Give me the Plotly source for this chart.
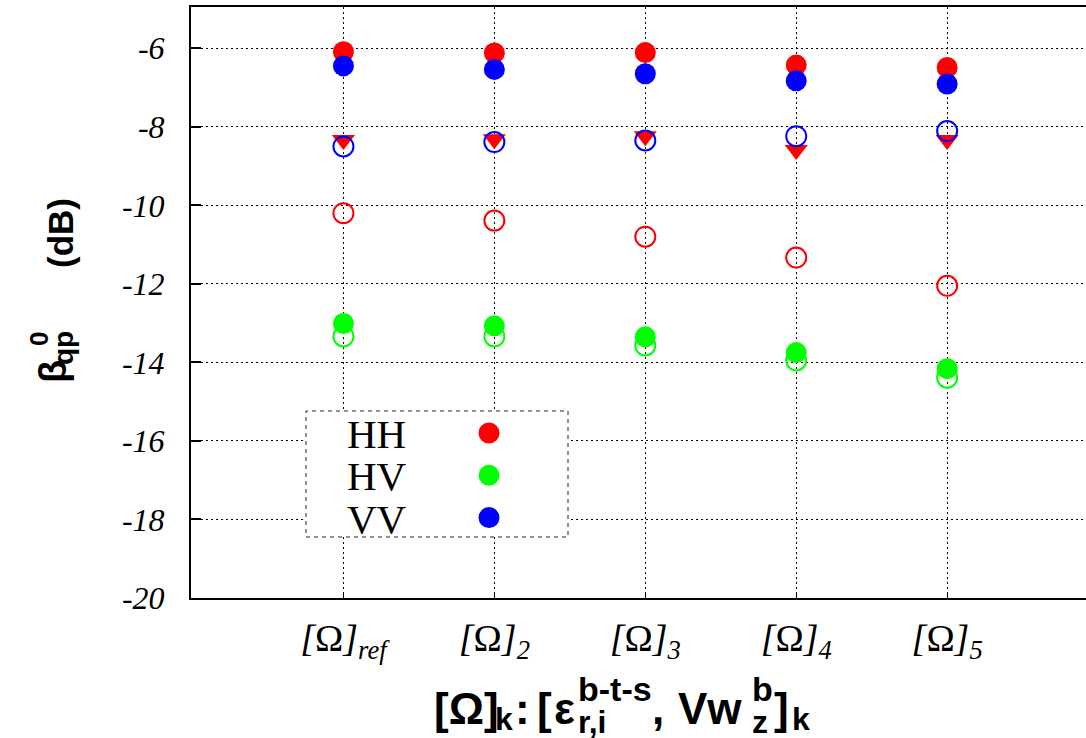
import plotly.graph_objects as go

# Configurations along the x axis
positions = [1, 2, 3, 4, 5]
categories = ["<i>[</i>Ω<i>]<sub>ref</sub></i>", "<i>[</i>Ω<i>]<sub>2</sub></i>",
              "<i>[</i>Ω<i>]<sub>3</sub></i>", "<i>[</i>Ω<i>]<sub>4</sub></i>",
              "<i>[</i>Ω<i>]<sub>5</sub></i>"]

# Backscattering coefficients (dB)
hh_filled = [-6.09, -6.12, -6.11, -6.43, -6.49]
hv_filled = [-13.01, -13.07, -13.35, -13.75, -14.16]
vv_filled = [-6.45, -6.54, -6.65, -6.83, -6.91]
hh_open = [-10.20, -10.39, -10.80, -11.33, -12.05]
hv_open = [-13.34, -13.34, -13.57, -13.95, -14.39]
vv_open = [-8.50, -8.39, -8.35, -8.24, -8.11]
hh_tri = [-8.34, -8.32, -8.24, -8.59, -8.34]

y_ticks = [-20, -18, -16, -14, -12, -10, -8, -6]
y_tick_labels = ["-20", "-18", "-16", "-14", "-12", "-10", "-8", "-6"]

legend_names = ["HH", "HV", "VV"]

RED, GREEN, BLUE = "#ff0000", "#00ff00", "#0000ff"

# plot-area geometry in pixels
W, H = 1086, 738
L, R, T, B = 191, 0, 7, 140
PW, PH = W - L - R, H - T - B


def px(x):
    return (x - L) / PW


def py(y):
    return (H - B - y) / PH


fig = go.Figure()


def open_marks(vals, color):
    fig.add_trace(go.Scatter(
        x=positions, y=vals, mode="markers",
        marker=dict(symbol="circle-open", size=20, color=color,
                    line=dict(color=color, width=2)),
        showlegend=False, hoverinfo="skip"))


def filled_marks(vals, color):
    fig.add_trace(go.Scatter(
        x=positions, y=vals, mode="markers",
        marker=dict(symbol="circle", size=21, color=color, line=dict(width=0)),
        showlegend=False, hoverinfo="skip"))


open_marks(hh_open, RED)
open_marks(hv_open, GREEN)
fig.add_trace(go.Scatter(
    x=positions, y=hh_tri, mode="markers",
    marker=dict(symbol="triangle-down", size=20, color=RED, line=dict(width=0)),
    showlegend=False, hoverinfo="skip"))
open_marks(vv_open, BLUE)
filled_marks(hh_filled, RED)
filled_marks(hv_filled, GREEN)
filled_marks(vv_filled, BLUE)

shapes = []
annotations = []

# key box
shapes.append(dict(type="rect", xref="paper", yref="paper",
                   x0=px(306), x1=px(568), y0=py(537), y1=py(411),
                   line=dict(color="#222222", width=1, dash="4px,4px"),
                   fillcolor="white", layer="above"))
for i, (name, col) in enumerate(zip(legend_names, [RED, GREEN, BLUE])):
    yc = 433 + 42.3 * i
    shapes.append(dict(type="circle", xref="paper", yref="paper",
                       xsizemode="pixel", ysizemode="pixel",
                       xanchor=px(489), yanchor=py(yc),
                       x0=-10.5, x1=10.5, y0=-10.5, y1=10.5,
                       fillcolor=col, line=dict(width=0), layer="above"))
    annotations.append(dict(text=name, xref="paper", yref="paper",
                            x=px(345), y=py(yc + 1), xanchor="left", yanchor="middle",
                            showarrow=False,
                            font=dict(family="Liberation Serif", size=41, color="black")))

# axis titles, built from pieces so the scripts stack
SANS = "Liberation Sans"


def piece(text, x, y, size, angle=0, anchor="left"):
    annotations.append(dict(text="<b>" + text + "</b>", xref="paper", yref="paper",
                            x=px(x), y=py(y), xanchor=anchor, yanchor="middle",
                            textangle=angle, showarrow=False,
                            font=dict(family=SANS, size=size, color="black")))


piece("[Ω]", 432, 708, 44)
piece("k", 493, 719, 32)
piece(":", 513, 708, 44)
piece("[", 535, 708, 44)
piece("ε", 552, 708, 44)
piece("b-t-s", 576, 689, 34)
piece("r,i", 576, 722, 32)
piece(",", 650, 708, 44)
piece("Vw", 676, 708, 44)
piece("b", 750, 689, 34)
piece("z", 750, 722, 32)
piece("]", 772, 708, 44)
piece("k", 790, 719, 32)

piece("(dB)", 60, 233, 35, angle=-90, anchor="center")
piece("β", 53, 372, 38, angle=-90, anchor="center")
piece("qp", 63, 348, 28, angle=-90, anchor="center")
piece("0", 39, 339, 26, angle=-90, anchor="center")

fig.update_layout(
    width=W, height=H, autosize=False,
    margin=dict(l=L, r=R, t=T, b=B, pad=0),
    paper_bgcolor="white", plot_bgcolor="white",
    shapes=shapes, annotations=annotations, showlegend=False,
    xaxis=dict(range=[-0.01, 5.92], tickvals=positions, ticktext=categories,
               showgrid=True, gridcolor="black", gridwidth=1, griddash="2px,3px",
               showline=True, linecolor="black", linewidth=2, mirror=True,
               ticks="inside", ticklen=6, tickcolor="black", tickwidth=1,
               ticklabelstandoff=5, zeroline=False,
               tickfont=dict(family="Liberation Serif", size=38, color="black")),
    yaxis=dict(range=[-20, -4.95], tickvals=y_ticks, ticktext=y_tick_labels,
               showgrid=True, gridcolor="black", gridwidth=1, griddash="2px,3px",
               showline=True, linecolor="black", linewidth=2, mirror=False,
               ticks="inside", ticklen=10, tickcolor="black", tickwidth=2,
               ticklabelstandoff=18, zeroline=False,
               tickfont=dict(family="Liberation Serif", size=32, color="black",
                             style="italic")),
)

fig.write_html("out.html")
